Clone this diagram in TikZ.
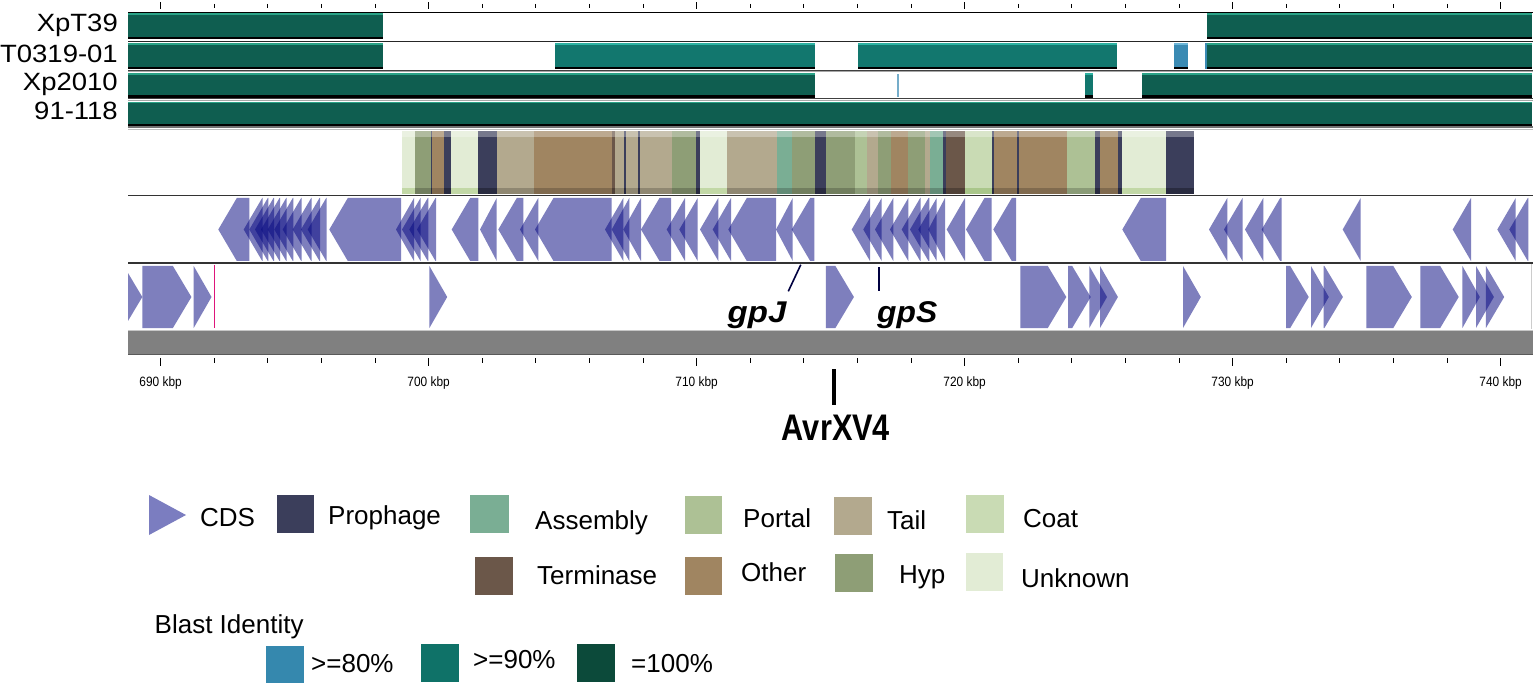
\documentclass[tikz,border=0pt]{standalone}
\usepackage{fontspec}
\setmainfont{Liberation Sans}
\definecolor{proph}{HTML}{3B3E5B}
\definecolor{assem}{HTML}{7AAE94}
\definecolor{portal}{HTML}{ADC195}
\definecolor{tail}{HTML}{B3A98E}
\definecolor{coat}{HTML}{C9DBB4}
\definecolor{termi}{HTML}{6B5749}
\definecolor{other}{HTML}{A08561}
\definecolor{hyp}{HTML}{8E9E76}
\definecolor{unkn}{HTML}{E2ECD5}
\colorlet{prophB}{proph!70!black}
\colorlet{assemB}{assem!80!black}
\colorlet{portalB}{portal!80!black}
\colorlet{tailB}{tail!80!black}
\definecolor{coatB}{HTML}{A9C68A}
\colorlet{termiB}{termi!75!black}
\colorlet{otherB}{other!80!black}
\colorlet{hypB}{hyp!80!black}
\definecolor{unknB}{HTML}{C2D8A6}
\definecolor{gA}{HTML}{0F5E50}
\definecolor{gAT}{HTML}{2AA387}
\definecolor{gB}{HTML}{12776E}
\definecolor{gBT}{HTML}{2DB2A2}
\definecolor{gC}{HTML}{3A8AB3}
\definecolor{gCT}{HTML}{6CB6D8}
\definecolor{lgA}{HTML}{0C4A3A}
\definecolor{lgB}{HTML}{0F7268}
\definecolor{lgC}{HTML}{3588AE}
\definecolor{cdsleg}{HTML}{7B7DC0}
\definecolor{cdsfill}{RGB}{8,10,130}
\newcommand\revgene[2]{%
  \pgfmathsetmacro\glen{#2-#1}%
  \ifdim\glen pt>18.5pt
    \fill[cds] (#1,229.5) -- ({#1+18.5},198) -- (#2,198) -- (#2,261) -- ({#1+18.5},261) -- cycle;
  \else
    \fill[cds] (#1,229.5) -- (#2,198) -- (#2,261) -- cycle;
  \fi}
\newcommand\fwdgene[2]{%
  \pgfmathsetmacro\glen{#2-#1}%
  \ifdim\glen pt>18.5pt
    \fill[cds] (#2,297) -- ({#2-18.5},266) -- (#1,266) -- (#1,328) -- ({#2-18.5},328) -- cycle;
  \else
    \fill[cds] (#2,297) -- (#1,266) -- (#1,328) -- cycle;
  \fi}
\newcommand\trackbar[5]{%
  \fill[#5] (#1,#3) rectangle (#2,#4);
  \fill[#5T] (#1,#3) rectangle (#2,{#3+1.7});
  \fill[black] (#1,{#4-2.4}) rectangle (#2,#4);}
\begin{document}
\begin{tikzpicture}[x=1pt,y=-1pt,
  cds/.style={fill=cdsfill, fill opacity=0.52},
  tracklbl/.style={inner sep=0pt, anchor=base east, font=\fontsize{25}{25}\selectfont},
  ticklbl/.style={inner sep=0pt, anchor=base, font=\fontsize{13.5}{13.5}\selectfont},
  genelbl/.style={inner sep=0pt, anchor=base west, font=\fontsize{30}{30}\selectfont\bfseries\itshape},
  leglbl/.style={inner sep=0pt, anchor=base west, font=\fontsize{26}{26}\selectfont},
  sep/.style={line width=1.2pt}]
\useasboundingbox (0,0) rectangle (1535,687);
\fill[white] (0,0) rectangle (1535,687);

% top ticks
\foreach \k in {0,...,25}{
  \pgfmathsetmacro\xx{160.6+53.6*\k}
  \pgfmathtruncatemacro\mm{mod(\k,5)}
  \ifnum\mm=0 \draw[line width=1pt] (\xx,2.5) -- (\xx,9); \else \draw[line width=1pt] (\xx,4) -- (\xx,8); \fi
}

% comparison tracks
\node[tracklbl] (lA) at (118,32) {\scalebox{1.1}[1]{XpT39}};
\node[tracklbl] (lB) at (118,62.5) {\scalebox{1.1}[1]{T0319-01}};
\node[tracklbl] (lC) at (118,91) {\scalebox{1.1}[1]{Xp2010}};
\node[tracklbl] (lD) at (118,119.5) {\scalebox{1.1}[1]{91-118}};

\draw[sep, black] (128,12.3) -- (1533,12.3);
\draw[sep, black!85] (128,41.7) -- (1533,41.7);
\draw[line width=1pt, black!75] (128,70.3) -- (1533,70.3);
\draw[line width=1pt, black!35] (128,71.8) -- (1533,71.8);
\draw[line width=1pt, black!75] (128,98.8) -- (1533,98.8);
\draw[line width=1pt, black!35] (128,100.3) -- (1533,100.3);

\trackbar{128}{383.3}{13.3}{39.3}{gA}
\trackbar{1206.7}{1532}{13.3}{39.3}{gA}
\trackbar{128}{383.3}{43.3}{69.3}{gA}
\trackbar{555}{815}{43.3}{69.3}{gB}
\trackbar{858}{1117}{43.3}{69.3}{gB}
\trackbar{1174}{1188}{43.3}{69.3}{gC}
\trackbar{1205}{1532}{43.3}{69.3}{gA}
\fill[gC] (1205,43.3) rectangle (1207,69.3);
\trackbar{128}{815}{73.3}{97.7}{gA}
\fill[gC!70!white] (896.5,74) rectangle (898.8,97);
\trackbar{1085}{1093}{73.3}{97.7}{gB}
\trackbar{1142}{1532}{73.3}{97.7}{gA}
\trackbar{128}{1532}{101.7}{126}{gA}

\draw[line width=1.4pt, black!55] (128,127.2) -- (1533,127.2);
\draw[line width=1pt, black!25] (128,129.2) -- (1533,129.2);

% prophage annotation row
\foreach \a/\b/\c in {
  401.7/415/unkn, 415/430.7/hyp, 430.7/432.3/proph, 432.3/444/other, 444/451/proph,
  451/478.3/unkn, 478.3/497.3/proph, 497.3/534/tail, 534/612.3/other, 612.3/615/termi,
  615/624/tail, 624/625.7/proph, 625.7/638.3/tail, 638.3/640/proph, 640/671.7/tail,
  671.7/696/hyp, 696/700/proph, 700/726.7/unkn, 726.7/776.7/tail, 776.7/791.7/assem,
  791.7/815/hyp, 815/826/proph, 826/855/hyp, 855/867.3/portal, 867.3/877.7/tail,
  877.7/891/hyp, 891/908.3/other, 908.3/925/hyp, 925/930/tail, 930/943.3/assem,
  943.3/945.5/proph, 945.5/965/termi, 965/991.7/coat, 991.7/994/proph, 994/1016.7/other,
  1016.7/1019.3/proph, 1019.3/1067.3/other, 1067.3/1095/portal, 1095/1100/proph,
  1100/1118.3/other, 1118.3/1122.3/proph, 1122.3/1166/unkn, 1166/1194.3/proph}{
  \edef\cb{\c B}
  \fill[\c] (\a,131) rectangle (\b,194);
  \fill[\cb] (\a,188) rectangle (\b,194);
}
\fill[white, fill opacity=0.3] (401.7,131) rectangle (1194.3,137);

\draw[line width=1.6pt, black!80] (128,195.7) -- (1533,195.7);

% reverse-strand CDS
\foreach \a/\b in {
  218.3/249.3, 243.7/262.7, 249.3/268.3, 255/274, 261/280, 267.7/286.7, 274.3/293.3,
  282.7/301.7, 292.7/311.7, 301/320, 307.7/326.7,
  329.3/401, 396/414, 402/420.7, 409.3/428.3, 417/436,
  451.7/478.3, 480/496.7, 498.3/523.3, 520/538.3, 535/611.7,
  605/623.3, 611.7/629.3, 623.3/641, 641/671, 666.7/685, 679.3/697.7, 700/718.3,
  712.7/731, 728.3/776, 776/792.7, 791.7/814.3,
  851.7/870, 863.3/881.7, 875/893.3, 890/908.3, 901.7/920.7, 910/929.3, 918.3/936.7,
  928.3/945, 946.7/965, 966/991.7, 993.3/1016,
  1122.3/1166, 1209/1227.3, 1224/1242.7, 1245/1263.3, 1261.7/1281.7,
  1342.7/1360.7, 1452.7/1471, 1497.3/1515.7, 1509.3/1528.3}{
  \revgene{\a}{\b}
}

\draw[line width=1.6pt, black!80] (128,263) -- (1533,263);

% forward-strand CDS
\begin{scope}
\clip (128,264) rectangle (1533,330);
\foreach \a/\b in {
  123.3/142.3, 142.3/191.4, 193.7/211.5, 429.4/447.2, 825.8/853.9,
  1020.3/1066.3, 1068.2/1090.7, 1089.3/1107, 1100/1117.9, 1183/1200.8,
  1286.2/1308.7, 1311/1328.8, 1323.7/1342.9, 1366.3/1411.8, 1420.3/1458.7,
  1462.4/1479.8, 1476/1493.9, 1485.9/1504.2}{
  \fwdgene{\a}{\b}
}
\end{scope}
\draw[line width=1.5pt, magenta!70!purple] (214.6,265) -- (214.6,328);
\draw[line width=1pt, black!20] (1531.5,264) -- (1531.5,329);

% gene labels
\coordinate (gpJtop) at (800.8,264.7);
\coordinate (gpJbot) at (788.3,291.3);
\draw[line width=1.6pt, black!75!blue] (gpJtop) -- (gpJbot);
\node[genelbl] (gpJ) at (727.5,322.5) {\scalebox{1.1}[1]{gpJ}};
\coordinate (gpStop) at (878.8,267.3);
\coordinate (gpSbot) at (878.8,291.3);
\draw[line width=1.6pt, black!75!blue] (gpStop) -- (gpSbot);
\node[genelbl] (gpS) at (877,322.5) {\scalebox{1.06}[1]{gpS}};

% grey bar
\fill[black!50] (128,330) rectangle (1533,354.5);
\draw[line width=1.5pt, black!22] (128,330.3) -- (1533,330.3);
\draw[line width=1.2pt, black!65] (128,354.2) -- (1533,354.2);

% axis
\foreach \k in {0,...,25}{
  \pgfmathsetmacro\xx{160.6+53.6*\k}
  \pgfmathtruncatemacro\mm{mod(\k,5)}
  \ifnum\mm=0 \draw[line width=1pt] (\xx,358) -- (\xx,366); \else \draw[line width=1pt] (\xx,358) -- (\xx,362.5); \fi
}
\foreach \k/\lab in {0/690,1/700,2/710,3/720,4/730,5/740}{
  \pgfmathsetmacro\xx{160.6+268*\k}
  \node[ticklbl] (kb\lab) at (\xx,386) {\scalebox{0.88}[1]{\lab\ kbp}};
}

\coordinate (avrtop) at (834,369);
\coordinate (avrbot) at (834,405);
\draw[line width=4pt] (avrtop) -- (avrbot);
\node[inner sep=0pt, anchor=base, font=\fontsize{37}{37}\selectfont\bfseries] (avr) at (836,440) {\scalebox{0.83}[1]{AvrXV4}};

% legend
\fill[cdsleg] (149,495) -- (186,515) -- (149,535) -- cycle;
\node[leglbl] (tCDS) at (200,526) {CDS};
\fill[proph] (277,495) rectangle (314,533);
\node[leglbl] (tPro) at (328,524) {Prophage};
\fill[assem] (470,495) rectangle (509,533);
\node[leglbl] (tAss) at (535,529) {Assembly};
\fill[portal] (685,496) rectangle (722,534);
\node[leglbl] (tPor) at (743,527) {Portal};
\fill[tail] (834,497) rectangle (872,535);
\node[leglbl] (tTai) at (887,529.5) {Tail};
\fill[coat] (966,495) rectangle (1004,533);
\node[leglbl] (tCoa) at (1023,527) {Coat};

\fill[termi] (475,557) rectangle (513,595);
\node[leglbl] (tTer) at (537,584) {Terminase};
\fill[other] (685,557) rectangle (722,595);
\node[leglbl] (tOth) at (741,581) {Other};
\fill[hyp] (835,554) rectangle (873,592);
\node[leglbl] (tHyp) at (899,583) {Hyp};
\fill[unkn] (966,553) rectangle (1003,591);
\node[leglbl] (tUnk) at (1021,587) {Unknown};

\node[leglbl] (tBla) at (154.5,633) {Blast Identity};
\fill[lgC] (266,646) rectangle (304,683);
\node[leglbl] (t80) at (311,672) {>=80\%};
\fill[lgB] (421,644) rectangle (459,682);
\node[leglbl] (t90) at (473,668.5) {>=90\%};
\fill[lgA] (577,644) rectangle (615,682);
\node[leglbl] (t100) at (631,672.5) {=100\%};
\end{tikzpicture}
\end{document}
